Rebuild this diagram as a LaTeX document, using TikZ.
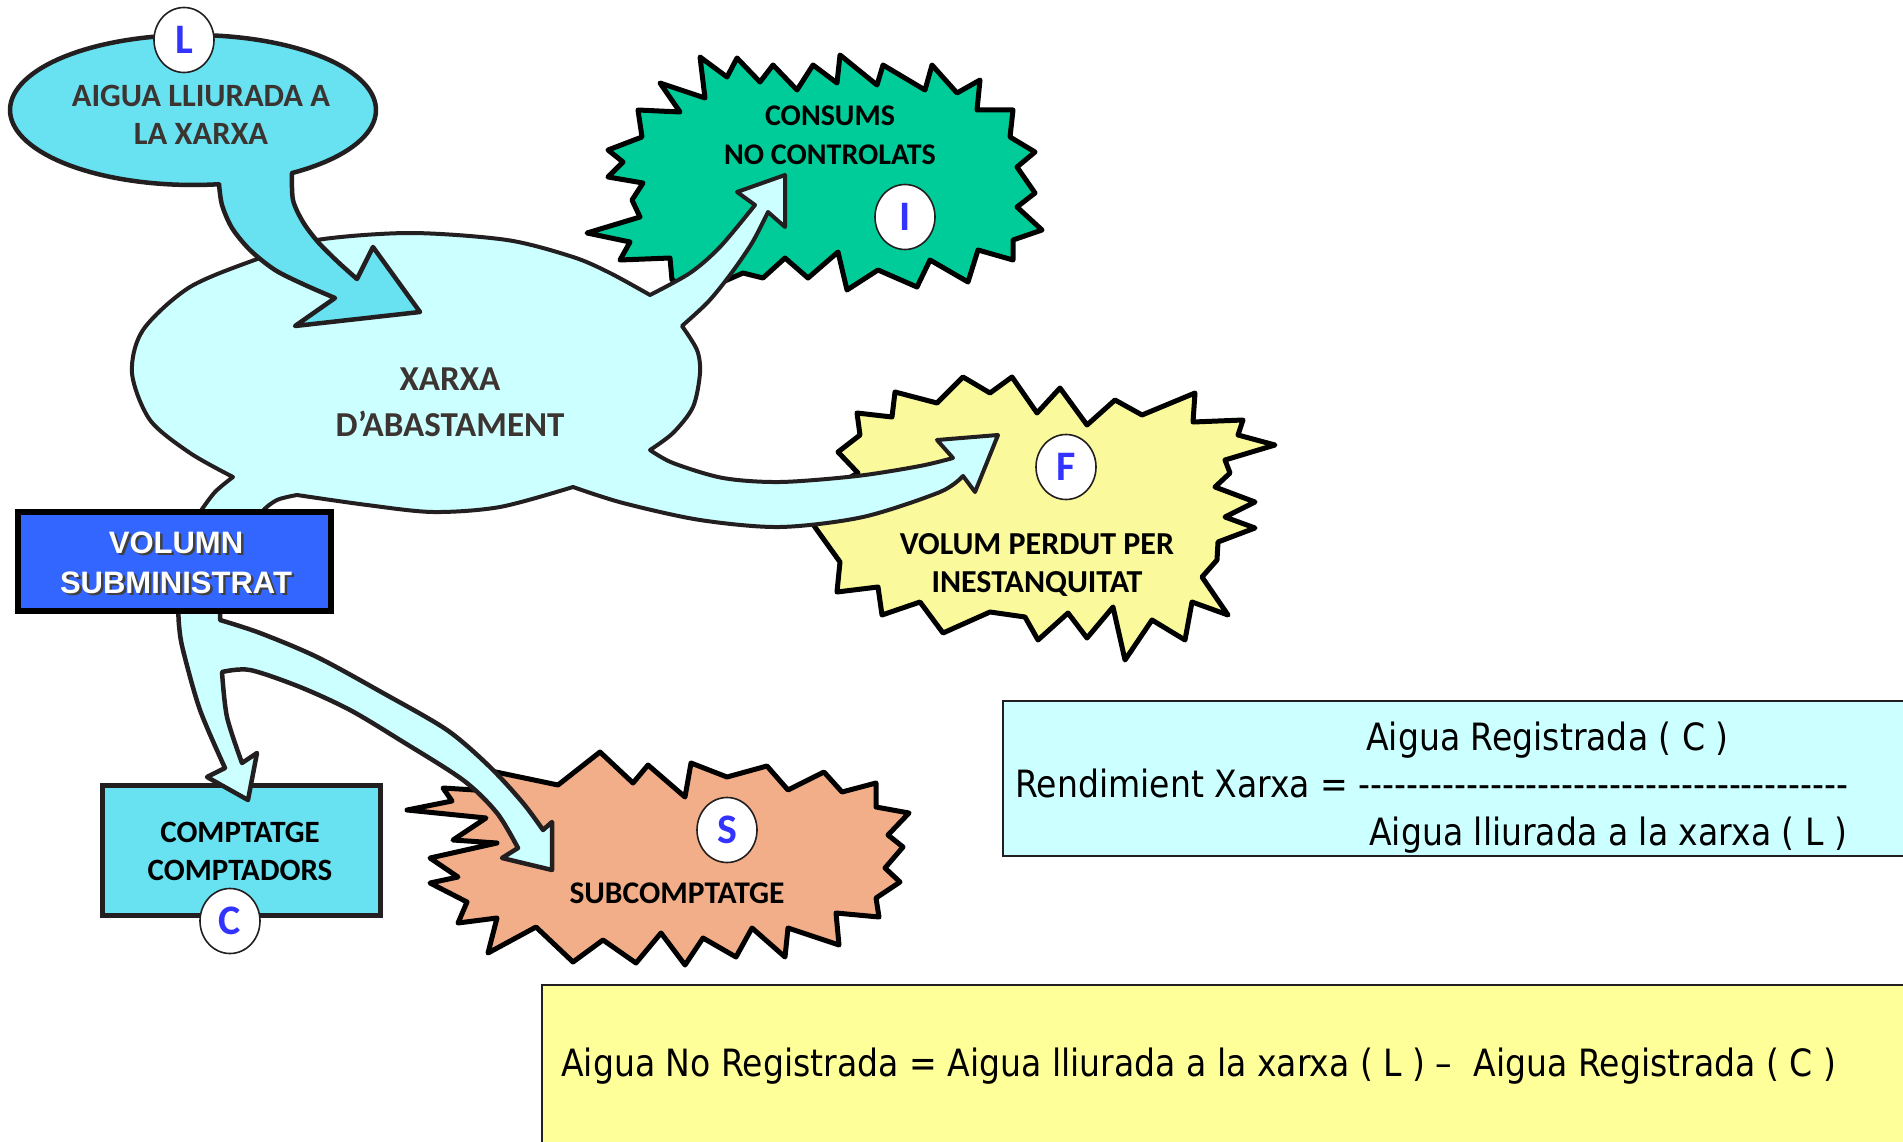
\documentclass[tikz,border=0pt]{standalone}
\usepackage{fontspec}
\usetikzlibrary{shapes.geometric}
\setmainfont{Carlito}
\newfontfamily\carl{Carlito}
\newfontfamily\arialb{Liberation Sans}
\newfontfamily\tah{DejaVu Sans}[FakeStretch=0.88]
\definecolor{outl}{HTML}{231F20}
\definecolor{lcyan}{HTML}{68E1F1}
\definecolor{pcyan}{HTML}{CCFFFF}
\definecolor{sgreen}{HTML}{00CC99}
\definecolor{syellow}{HTML}{FAF99B}
\definecolor{ssalmon}{HTML}{F2AE88}
\definecolor{vblue}{HTML}{3366FF}
\definecolor{fyellow}{HTML}{FFFF99}
\definecolor{lblue}{HTML}{3333FF}
\definecolor{dtext}{HTML}{3C3431}
\begin{document}
\begin{tikzpicture}[x=1pt,y=-1pt,
  blob/.style={draw=outl, line width=4.5pt, line join=round},
  starsh/.style={draw=black, line width=5pt, line join=round},
  fbox/.style={draw=outl, line width=2pt},
  lbl/.style={anchor=base, inner sep=0pt, text=black, font={\carl\bfseries\fontsize{30}{36}\selectfont}},
  ltr/.style={shape=ellipse, draw=outl, line width=1.6pt, fill=white, inner sep=0pt,
     minimum width=60pt, minimum height=65pt, text=lblue, font={\carl\bfseries\fontsize{42}{42}\selectfont}},
  ftxt/.style={anchor=base west, inner sep=0pt, text=black, font={\tah\fontsize{37.6}{45}\selectfont}},
  vtxt/.style={anchor=base, inner sep=0pt, font={\arialb\bfseries\fontsize{31}{37}\selectfont}}
]
\useasboundingbox (0,0) rectangle (1903,1142);
\clip (0,0) rectangle (1903,1142);
\fill[white] (0,0) rectangle (1903,1142);

% formula boxes
\filldraw[fbox, fill=pcyan] (1003,701) rectangle (1915,856);
\filldraw[fbox, fill=fyellow] (542,985) rectangle (1915,1160);

% consums star
\filldraw[starsh, fill=sgreen] (660,83) -- (680,112) -- (638,110) -- (642,137) -- (608,150) -- (623,162)
 -- (608,177) -- (643,183) -- (632,200) -- (640,217) -- (587,233) -- (630,242) -- (620,260)
 -- (670,258) -- (672,280) -- (700,292) -- (743,273) -- (763,278) -- (785,258) -- (808,278)
 -- (838,252) -- (847,290) -- (878,270) -- (917,287) -- (930,260) -- (968,282) -- (978,250)
 -- (1013,260) -- (1013,240) -- (1042,230) -- (1017,207) -- (1035,193) -- (1017,167)
 -- (1035,152) -- (1010,137) -- (1013,110) -- (977,110) -- (980,80) -- (957,93) -- (932,65)
 -- (925,90) -- (883,65) -- (877,85) -- (840,55) -- (837,83) -- (813,65) -- (797,90)
 -- (773,65) -- (760,82) -- (737,58) -- (727,77) -- (700,57) -- (705,98) -- cycle;

% leak star
\filldraw[starsh, fill=syellow] (838,452) -- (860,435) -- (857,413) -- (892,417) -- (895,392)
 -- (937,403) -- (963,377) -- (990,393) -- (1012,377) -- (1037,413) -- (1060,388)
 -- (1087,425) -- (1115,400) -- (1142,415) -- (1195,393) -- (1193,422) -- (1243,420)
 -- (1238,435) -- (1275,445) -- (1225,460) -- (1230,473) -- (1215,487) -- (1255,502)
 -- (1225,517) -- (1255,528) -- (1218,542) -- (1217,560) -- (1202,577) -- (1228,615)
 -- (1192,602) -- (1185,640) -- (1152,620) -- (1125,660) -- (1113,607) -- (1087,638)
 -- (1068,613) -- (1038,640) -- (1025,617) -- (990,612) -- (943,633) -- (920,602)
 -- (882,615) -- (878,587) -- (837,592) -- (840,562) -- (817,530) -- (800,505)
 -- (858,473) -- cycle;

% subcomptatge star
\filldraw[starsh, fill=ssalmon] (443,788) -- (475,790) -- (491,771) -- (558,785) -- (600,752)
 -- (633,783) -- (648,765) -- (685,797) -- (691,763) -- (727,777) -- (767,766) -- (788,790)
 -- (824,772) -- (842,792) -- (876,783) -- (876,807) -- (909,813) -- (888,835) -- (903,847)
 -- (885,868) -- (900,882) -- (876,898) -- (879,917) -- (836,913) -- (839,945) -- (788,928)
 -- (785,957) -- (752,928) -- (736,957) -- (703,938) -- (685,965) -- (661,933) -- (636,963)
 -- (603,940) -- (573,962) -- (536,927) -- (488,953) -- (497,918) -- (458,923) -- (467,902)
 -- (430,883) -- (458,877) -- (430,858) -- (497,843) -- (453,840) -- (486,818) -- (407,810)
 -- (452,801) -- cycle;

% network cloud with its two outgoing arrows
\filldraw[blob, line width=4pt, fill=pcyan]
 (257,545) -- (205,545) -- (200,512)
 -- plot[smooth] coordinates {(200,512)(215,492)(233,477)}
 -- plot[smooth] coordinates {(233,477)(190,453)(150,420)(132,373)(143,330)(190,287)(260,258)(317,240)(410,233)(507,240)(573,257)(610,273)(650,295)}
 -- plot[smooth] coordinates {(650,295)(690,273)(720,247)(755,205)}
 -- (737,192) -- (785,175) -- (785,227) -- (768,212)
 -- plot[smooth] coordinates {(768,212)(752,243)(730,275)(708,302)(682,326)}
 -- plot[smooth] coordinates {(682,326)(697,350)(700,373)(693,407)(673,433)(650,450)}
 -- plot[smooth] coordinates {(650,450)(673,463)(723,478)(780,482)(857,476)(920,466)(953,458)}
 -- (937,440) -- (998,435) -- (975,492) -- (963,476)
 -- plot[smooth] coordinates {(963,476)(940,492)(863,517)(780,527)(700,520)(623,503)(573,487)}
 -- plot[smooth] coordinates {(573,487)(500,507)(433,512)(367,505)(297,495)}
 -- plot[smooth] coordinates {(297,495)(277,500)(262,512)(257,530)}
 -- cycle;

% delivered water callout
\filldraw[blob, fill=lcyan]
 plot[domain=57.3:-278.2, samples=120, variable=\t] ({193+183*cos(\t)},{110+75*sin(\t)})
 -- plot[smooth] coordinates {(219,184)(222,205)(232,228)(250,250)(275,270)(305,285)(335,298)}
 -- (295,326) -- (420,312) -- (373,247) -- (357,279)
 -- plot[smooth] coordinates {(357,279)(338,262)(318,242)(303,222)(293,200)(292,173)}
 -- cycle;

% comptatge box
\filldraw[blob, line width=5pt, fill=lcyan, line join=miter] (102,785) rectangle (380,915);

% lower arrows
\filldraw[blob, fill=pcyan]
 (220,600) -- (178,600)
 -- plot[smooth] coordinates {(178,600)(179,625)(183,650)(200,710)(225,768)}
 -- (207,777) -- (248,800) -- (257,753) -- (242,763)
 -- plot[smooth] coordinates {(242,763)(227,717)(222,672)}
 -- plot[smooth] coordinates {(222,672)(250,670)(300,687)(350,710)(400,740)(463,780)(497,813)(518,848)}
 -- (502,858) -- (552,870) -- (552,822) -- (543,830)
 -- plot[smooth] coordinates {(543,830)(523,803)(490,767)(447,730)(383,693)(317,657)(260,633)(220,620)}
 -- cycle;

% volumn box
\filldraw[draw=black, line width=5.5pt, fill=vblue, line join=miter] (18,512) rectangle (331,611);

% texts
\node[lbl, text=dtext, font={\carl\bfseries\fontsize{32.5}{38}\selectfont}] (t1) at (201,107) {AIGUA LLIURADA A};
\node[lbl, text=dtext, font={\carl\bfseries\fontsize{32.5}{38}\selectfont}] (t2) at (201,145) {LA XARXA};
\node[lbl, text=dtext, font={\carl\bfseries\fontsize{35}{40}\selectfont}] (t3) at (450,390) {XARXA};
\node[lbl, text=dtext, font={\carl\bfseries\fontsize{35}{40}\selectfont}] (t4) at (450,436) {D’ABASTAMENT};
\node[lbl] (t5) at (830,126) {CONSUMS};
\node[lbl] (t6) at (830,165) {NO CONTROLATS};
\node[lbl, font={\carl\bfseries\fontsize{32}{38}\selectfont}] (t7) at (1037,554) {VOLUM PERDUT PER};
\node[lbl, font={\carl\bfseries\fontsize{32}{38}\selectfont}] (t8) at (1037,592) {INESTANQUITAT};
\node[lbl, font={\carl\bfseries\fontsize{31}{37}\selectfont}] (t9) at (240,842) {COMPTATGE};
\node[lbl, font={\carl\bfseries\fontsize{31}{37}\selectfont}] (t10) at (240,880) {COMPTADORS};
\node[lbl, font={\carl\bfseries\fontsize{31.5}{37}\selectfont}] (t11) at (677,903) {SUBCOMPTATGE};

\node[vtxt, text=black!75] (v1s) at (178.5,555.5) {VOLUMN};
\node[vtxt, text=black!75] (v2s) at (178.5,595.5) {SUBMINISTRAT};
\node[vtxt, text=white] (v1) at (176,553) {VOLUMN};
\node[vtxt, text=white] (v2) at (176,593) {SUBMINISTRAT};

% letter markers
\node[ltr] (cL) at (184,40) {L};
\node[ltr] (cI) at (905,217) {I};
\node[ltr] (cF) at (1066,467) {F};
\node[ltr] (cS) at (727,830) {S};
\node[ltr] (cC) at (230,921) {C};

% formulas
\node[ftxt] (f1) at (1366,750) {Aigua Registrada ( C )};
\node[ftxt] (f2) at (1015,797) {Rendimient Xarxa = -{}-{}-{}-{}-{}-{}-{}-{}-{}-{}-{}-{}-{}-{}-{}-{}-{}-{}-{}-{}-{}-{}-{}-{}-{}-{}-{}-{}-{}-{}-{}-{}-{}-{}-{}-{}-{}-{}-{}-{}-};
\node[ftxt] (f3) at (1369,845) {Aigua lliurada a la xarxa ( L )};
\node[ftxt] (f4) at (561,1076) {Aigua No Registrada = Aigua lliurada a la xarxa ( L ) –\ \ Aigua Registrada ( C )};
\end{tikzpicture}
\end{document}
